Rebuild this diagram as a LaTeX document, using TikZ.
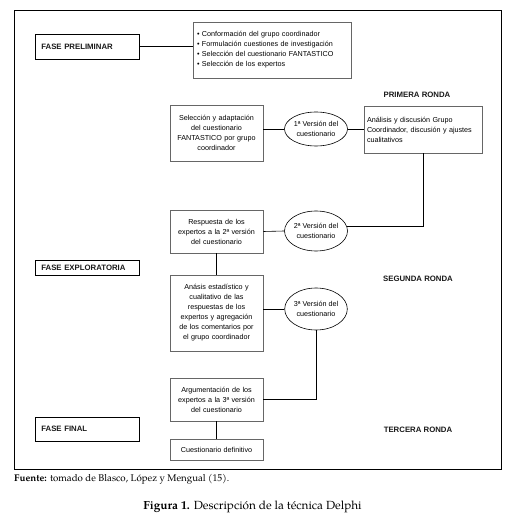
\documentclass[tikz,border=0pt]{standalone}
\usepackage{fontspec}
\setmainfont{Liberation Sans}
\newfontfamily\capfont{TeX Gyre Pagella}
\usetikzlibrary{shapes.geometric}
\tikzset{
  gbox/.style={draw=black!60, line width=0.9pt, align=center, inner sep=1pt,
    font=\fontsize{7.2}{10}\selectfont, text=black, minimum width=93pt},
  fbox/.style={draw=black, line width=0.6pt, inner sep=0pt, anchor=west,
    font=\fontsize{7.8}{9}\selectfont\bfseries, text=black!90},
  ell/.style={draw=black, line width=0.6pt, ellipse, inner sep=0pt, align=center,
    font=\fontsize{7.2}{10}\selectfont, text=black},
  ronda/.style={font=\fontsize{7.8}{9}\selectfont\bfseries, text=black!90},
  conn/.style={draw=black, line width=0.6pt}
}
\begin{document}
\begin{tikzpicture}[x=1pt,y=-1pt]
\useasboundingbox (0,0) rectangle (519,518);
\draw[line width=0.8pt] (14,10) rectangle (501,469);

% fase boxes
\node[fbox, minimum width=104pt, minimum height=25pt, text width=96pt, align=left] (prel) at (35,46.5) {\hspace*{2pt}FASE PRELIMINAR};
\node[fbox, minimum width=104pt, minimum height=15pt, text width=96pt, align=left] (explo) at (35,267.5) {\hspace*{2pt}FASE EXPLORATORIA};
\node[fbox, minimum width=104pt, minimum height=24pt, text width=96pt, align=left] (final) at (35,429) {\hspace*{2pt}FASE FINAL};

% bullet box
\node[gbox, minimum width=158pt, minimum height=56pt, align=left, text width=150pt] (bul) at (272,50)
 {• Conformación del grupo coordinador\\
  • Formulación cuestiones de investigación\\
  • Selección del cuestionario FANTASTICO\\
  • Selección de los expertos};

% first round
\node[gbox, minimum height=56pt, text width=89pt] (sel) at (216.5,133)
 {Selección y adaptación\\del cuestionario\\FANTASTICO por grupo\\coordinador};
\node[ell, minimum width=63pt, minimum height=34pt] (e1) at (316,129) {1ª Versión del\\cuestionario};
\node[gbox, minimum width=118pt, minimum height=47pt, text width=112pt, align=left] (anal) at (423,129.5)
 {Análisis y discusión Grupo\\Coordinador, discusión y ajustes\\cualitativos};
\node[ronda] (r1) at (417,95) {PRIMERA RONDA};

% second round
\node[gbox, minimum height=43pt, text width=89pt] (resp) at (216.5,231.5)
 {Respuesta de los\\expertos a la 2ª versión\\del cuestionario};
\node[ell, minimum width=63pt, minimum height=40pt] (e2) at (316,231) {2ª Versión del\\cuestionario};
\node[gbox, minimum height=76pt, text width=89pt] (est) at (216.5,313)
 {Anásis estadístico y\\cualitativo de las\\respuestas de los\\expertos y agregación\\de los comentarios por\\el grupo coordinador};
\node[ell, minimum width=62pt, minimum height=42pt] (e3) at (316,309) {3ª Versión del\\cuestionario};
\node[ronda] (r2) at (418,279) {SEGUNDA RONDA};

% third round
\node[gbox, minimum height=43pt, text width=89pt] (arg) at (216.5,399.5)
 {Argumentación de los\\expertos a la 3ª versión\\del cuestionario};
\node[gbox, minimum height=21pt, text width=89pt] (def) at (216.5,449.5) {Cuestionario definitivo};
\node[ronda] (r3) at (418,430) {TERCERA RONDA};

% connectors
\draw[conn] (prel.east) -- (prel.east -| bul.west);
\draw[conn] (e1.west -| sel.east) -- (e1.west);
\draw[conn] (e1.east) -- (anal.west |- e1.east);
\draw[conn] (anal.south) -- (anal.south |- e2.9) -- (e2.9);
\draw[conn] (resp.east) -- (e2.west);
\draw[conn] (resp.south) -- (est.north);
\draw[conn] (e3.west -| est.east) -- (e3.west);
\draw[conn] (e3.south) -- (e3.south |- arg.east) -- (arg.east);
\draw[conn] (arg.south) -- (def.north);

% captions
\node[anchor=west, font=\capfont\fontsize{9.7}{11}\selectfont, inner sep=0pt] (src) at (14,479)
 {\textbf{Fuente:} tomado de Blasco, López y Mengual (15).};
\node[font=\capfont\fontsize{11.8}{13}\selectfont, inner sep=0pt] (fig) at (252.5,507)
 {\textbf{Figura 1.} Descripción de la técnica Delphi};
\end{tikzpicture}
\end{document}
